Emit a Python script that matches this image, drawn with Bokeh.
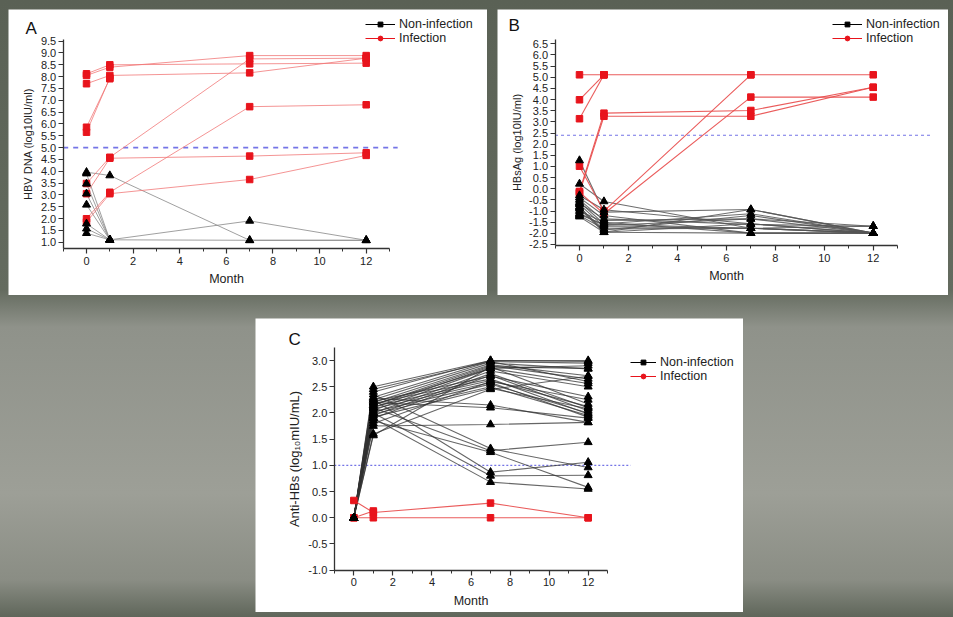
import math
from bokeh.plotting import figure
from bokeh.models import (Legend, LegendItem, Label, SingleIntervalTicker,
                          NumeralTickFormatter, Spacer, Range1d)
from bokeh.layouts import row, column
from bokeh.embed import file_html
from bokeh.resources import INLINE

NaN = float("nan")
months = [0, 1, 7, 12]

# ---------- Panel A : HBV DNA (log10 IU/ml) ----------
a_infection = [
    [8.12, 8.50, 8.54, 8.57],
    [8.05, 8.40, 8.89, 8.89],
    [7.70, 8.05, 8.16, 8.78],
    [5.86, 7.91, NaN, NaN],
    [5.65, 7.95, NaN, NaN],
    [3.48, 4.59, 8.75, 8.78],
    [3.05, 4.55, 4.64, 4.78],
    [1.99, 3.11, 6.73, 6.81],
    [1.85, 3.05, 3.65, 4.67],
]
a_noninfection = [
    [3.96, 3.82, 1.08, 1.08],
    [3.90, 1.10, 1.90, 1.08],
    [3.47, 1.10, NaN, NaN],
    [3.05, 1.10, NaN, NaN],
    [2.58, 1.10, NaN, NaN],
    [1.78, 1.10, NaN, NaN],
    [1.57, 1.10, NaN, NaN],
    [1.38, 1.10, 1.08, 1.08],
]
a_cutoff = 5.0

# ---------- Panel B : HBsAg (log10 IU/ml) ----------
b_infection = [
    [5.11, 5.11, 5.11, 5.11],
    [3.99, 5.11, NaN, NaN],
    [3.14, 5.11, NaN, NaN],
    [1.01, -1.00, 5.11, NaN],
    [-0.15, -1.12, 4.11, 4.11],
    [-0.12, 3.39, 3.51, 4.55],
    [-0.20, 3.25, 3.25, 4.55],
]
b_noninfection = [
    [1.27, -1.05, -0.93, -1.99],
    [0.22, -0.57, -1.77, -1.99],
    [-0.30, -0.94, -1.57, -1.99],
    [-0.40, -1.20, -1.99, -1.99],
    [-0.50, -1.42, -1.35, -1.68],
    [-0.60, -1.57, -1.12, -1.99],
    [-0.70, -1.70, -1.77, -1.68],
    [-0.80, -1.95, -0.93, -1.99],
    [-0.90, -1.95, -1.57, -1.99],
    [-1.00, -1.50, -1.99, -1.99],
    [-1.10, -1.65, -1.35, -1.99],
    [-1.20, -1.80, -1.77, -1.99],
    [-1.25, -1.95, -1.99, -1.99],
    [-0.65, -1.35, -1.60, -1.68],
    [-0.85, -1.85, -1.20, -1.99],
    [-1.15, -1.60, -1.77, -1.99],
]
b_cutoff = 2.4

# ---------- Panel C : Anti-HBs (log10 mIU/mL) ----------
c_infection = [
    [0.33, 0.10, 0.28, 0.00],
    [0.00, 0.00, 0.00, 0.00],
    [0.00, 0.13, NaN, NaN],
]
c_noninfection = [
    [0, 2.50, 3.00, 3.00], [0, 2.40, 3.00, 2.98], [0, 2.30, 2.98, 2.95],
    [0, 2.25, 2.95, 2.84], [0, 2.20, 2.92, 2.71], [0, 2.15, 2.90, 2.65],
    [0, 2.10, 2.88, 2.17], [0, 2.05, 2.85, 2.56], [0, 2.00, 2.80, 2.50],
    [0, 1.95, 2.75, 2.10], [0, 1.90, 2.72, 2.04], [0, 2.22, 2.70, 2.31],
    [0, 2.18, 2.65, 1.98], [0, 2.12, 2.62, 2.12], [0, 2.08, 2.58, 1.92],
    [0, 2.02, 2.55, 2.00], [0, 1.98, 2.50, 1.95], [0, 1.92, 2.47, 2.08],
    [0, 1.60, 2.45, 2.70], [0, 2.28, 2.15, 1.82], [0, 2.20, 2.10, 1.90],
    [0, 1.75, 1.78, 1.82], [0, 2.35, 1.32, 0.96], [0, 2.10, 1.28, 1.44],
    [0, 1.85, 1.25, 0.58], [0, 2.25, 0.87, 1.06], [0, 2.00, 0.80, 0.81],
    [0, 1.90, 0.68, 0.55], [0, 1.57, 2.88, 2.85], [0, 2.45, 2.98, 2.60],
    [0, 2.15, 2.85, 2.90], [0, 1.80, 2.60, 2.25],
]
c_cutoff = 1.0

x_axis_span = (-1, 13)
labels = ["Non-infection", "Infection"]
FONT = "Liberation Sans"
RED = "#e8141c"
TXT = "#222222"


def span_range(d0, d1, p0, p1, total):
    """Range whose values d0, d1 fall at pixels p0, p1 of a canvas `total` px long."""
    k = (p1 - p0) / (d1 - d0)
    return Range1d(d0 - p0 / k, d1 + (total - p1) / k)


def make_panel(letter, ylabel, y_axis_span, ytick, yminor, inf, non, cutoff,
               w, h, xpix, ypix, dash_end, red_line, black_line, dash,
               legend_xy, letter_xy, legend_font, glyph_w, ylabel_size):
    p = figure(width=w, height=h,
               x_range=span_range(x_axis_span[0], x_axis_span[1], xpix[0], xpix[1], w),
               y_range=span_range(y_axis_span[0], y_axis_span[1], ypix[0], ypix[1], h),
               output_backend="svg", toolbar_location=None,
               min_border=0, x_axis_label="Month", y_axis_label=ylabel)
    p.grid.visible = False
    p.outline_line_color = None
    p.background_fill_color = "white"
    p.border_fill_color = "white"

    p.xaxis.fixed_location = y_axis_span[0]
    p.xaxis.bounds = x_axis_span
    p.yaxis.fixed_location = x_axis_span[0]
    p.yaxis.bounds = y_axis_span
    p.xaxis.ticker = SingleIntervalTicker(interval=2, num_minor_ticks=2)
    p.yaxis.ticker = SingleIntervalTicker(interval=ytick, num_minor_ticks=yminor)
    p.yaxis.formatter = NumeralTickFormatter(format="0.0")
    for ax in (p.xaxis[0], p.yaxis[0]):
        ax.axis_line_color = "#333333"
        ax.axis_line_width = 1.3
        ax.major_tick_line_color = "#333333"
        ax.minor_tick_line_color = "#333333"
        ax.major_tick_line_width = 1.2
        ax.major_tick_out = 5
        ax.major_tick_in = 0
        ax.minor_tick_out = 3
        ax.minor_tick_in = 0
        ax.major_label_text_font = FONT
        ax.major_label_text_font_size = "11px"
        ax.major_label_text_color = TXT
        ax.axis_label_text_font = FONT
        ax.axis_label_text_font_style = "normal"
        ax.axis_label_text_color = TXT
        ax.major_label_standoff = 3
        ax.axis_label_standoff = 4
    p.xaxis.axis_label_text_font_size = "12.5px"
    p.yaxis.axis_label_text_font_size = ylabel_size
    p.yaxis.major_label_standoff = 2

    # cut-off reference line
    p.segment(x0=[x_axis_span[0]], x1=[dash_end], y0=[cutoff], y1=[cutoff],
              line_color="#7474e6", line_dash=dash[0], line_width=dash[1])

    for ys in non:
        p.line(months, ys, line_color=black_line[0], line_alpha=black_line[1],
               line_width=black_line[2])
    for ys in inf:
        p.line(months, ys, line_color=red_line[0], line_alpha=red_line[1],
               line_width=red_line[2])
    nx = [m for ys in non for m, v in zip(months, ys) if not math.isnan(v)]
    ny = [v for ys in non for v in ys if not math.isnan(v)]
    ix = [m for ys in inf for m, v in zip(months, ys) if not math.isnan(v)]
    iy = [v for ys in inf for v in ys if not math.isnan(v)]
    p.scatter(ix, iy, marker="square", size=6.5, fill_color=RED, line_color=RED)
    p.scatter(nx, ny, marker="triangle", size=8, fill_color="black",
              line_color="black")

    # legend-only renderers (one non-drawable point so the legend glyph shows)
    l1 = p.line([NaN], [NaN], line_color="black", line_width=1)
    s1 = p.scatter([NaN], [NaN], marker="square", size=6, fill_color="black",
                   line_color="black")
    l2 = p.line([NaN], [NaN], line_color=RED, line_width=1)
    s2 = p.scatter([NaN], [NaN], marker="circle", size=7, fill_color=RED,
                   line_color=RED)
    leg = Legend(items=[LegendItem(label=labels[0], renderers=[l1, s1]),
                        LegendItem(label=labels[1], renderers=[l2, s2])],
                 location=legend_xy)
    leg.background_fill_alpha = 0
    leg.border_line_alpha = 0
    leg.padding = 0
    leg.margin = 0
    leg.spacing = 0
    leg.glyph_width = glyph_w
    leg.glyph_height = 12
    leg.label_height = 12
    leg.label_standoff = 4
    leg.label_text_font = FONT
    leg.label_text_font_size = legend_font
    leg.label_text_color = TXT
    p.add_layout(leg, "center")

    p.add_layout(Label(x=letter_xy[0], y=letter_xy[1], x_units="screen",
                       y_units="screen", text=letter, text_font=FONT,
                       text_font_size="17px", text_color="#111111",
                       text_baseline="middle"))
    return p


pA = make_panel("A", "HBV DNA (log10IU/ml)", (0.72, 9.57), 0.5, 0,
                a_infection, a_noninfection, a_cutoff, 479, 286,
                (54.7, 381.0), (286 - 239.3, 286 - 30.0), 13.35,
                ("#f07070", 0.75, 1.0), ("#888888", 0.8, 1.0), ("5 5", 1.6),
                (357, 250), (17, 267.5), "12.5px", 30, "11px")
pB = make_panel("B", "HBsAg (log10IU/ml)", (-2.55, 6.68), 0.5, 0,
                b_infection, b_noninfection, b_cutoff, 451, 286,
                (57.5, 400.2), (286 - 236.1, 286 - 30.3), 14.35,
                ("#e84a4a", 0.9, 1.1), ("#555555", 0.85, 1.1), ("3 3", 1.1),
                (335, 250.5), (11, 270), "12.5px", 30, "11px")
pC = make_panel("C", "Anti-HBs (log\u2081\u2080mIU/mL)", (-1.0, 3.25), 0.5, 1,
                c_infection, c_noninfection, c_cutoff, 488, 294,
                (78.8, 352.2), (294 - 251.7, 294 - 28.9), 14.17,
                ("#e84a4a", 0.9, 1.1), ("#333333", 0.75, 1.1), ("2 2", 1.1),
                (375, 229.5), (33, 273.5), "12.5px", 26, "13px")

root = column(
    Spacer(height=9),
    row(Spacer(width=8), pA, Spacer(width=10), pB),
    Spacer(height=23),
    row(Spacer(width=255), pC),
    width=953, height=617,
    styles={"background": "linear-gradient(to bottom, #5a6155 0%, #646b5f 47%, "
                          "#8f928a 53%, #9d9f97 80%, #8a8d84 94%, #5f665a 100%)"},
)

html = file_html(root, INLINE)
html = html.replace("<body>", '<body style="margin:0;background:#6b7266;">', 1)
open("out.html", "w").write(html)
